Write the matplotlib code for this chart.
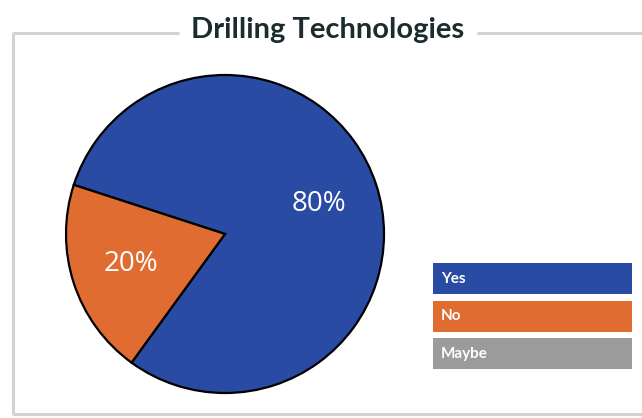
import matplotlib.pyplot as plt
from matplotlib.patches import Rectangle
from matplotlib.lines import Line2D

# survey answers
answers = ["Yes", "No", "Maybe"]
shares = [80, 20, 0]
colors = ["#2a4ba3", "#e06c32", "#9b9b9b"]

W, H = 642, 418
fig = plt.figure(figsize=(W / 100, H / 100), dpi=100)

def fx(px):
    return px / W

def fy(py):
    return 1 - py / H

# frame with a gap for the title
frame_col = "#d2d2d2"
lw = 2.2
for xs, ys in [([12, 179], [33, 33]), ([477, 642], [33, 33]),
               ([13, 13], [33, 414]), ([12, 642], [414, 414])]:
    fig.add_artist(Line2D([fx(x) for x in xs], [fy(y) for y in ys],
                          color=frame_col, lw=lw, solid_capstyle="butt"))

fig.text(fx(328), fy(30), "Drilling Technologies", ha="center", va="center",
         fontsize=21, fontweight="bold", family="Lato", color="#1c2b2b")

# pie, only the non-empty slices
cx, cy, r = 225, 234, 159
ax = fig.add_axes([fx(cx - r), fy(cy + r), 2 * r / W, 2 * r / H])
vals = [v for v in shares if v > 0]
cols = [c for v, c in zip(shares, colors) if v > 0]
wedges, texts, autotexts = ax.pie(vals, colors=cols, startangle=162, counterclock=False,
                                  autopct="%d%%", pctdistance=0.62,
                                  wedgeprops=dict(edgecolor="black", linewidth=1.6,
                                                  clip_on=False))
for t in autotexts:
    t.set_color("white")
    t.set_fontsize(20)
    t.set_family("Open Sans")
ax.set_xlim(-1, 1)
ax.set_ylim(-1, 1)
ax.set_aspect("equal")
ax.axis("off")

# legend as coloured boxes
for i, (lab, col) in enumerate(zip(answers, colors)):
    top = 263 + i * 37.5
    fig.add_artist(Rectangle((fx(433), fy(top + 31)), fx(632) - fx(433), 31 / H,
                             facecolor=col, edgecolor="none"))
    fig.text(fx(441), fy(top + 16), lab, ha="left", va="center", fontsize=11,
             fontweight="bold", family="Lato", color="white")

fig.savefig("out.png", dpi=100)
